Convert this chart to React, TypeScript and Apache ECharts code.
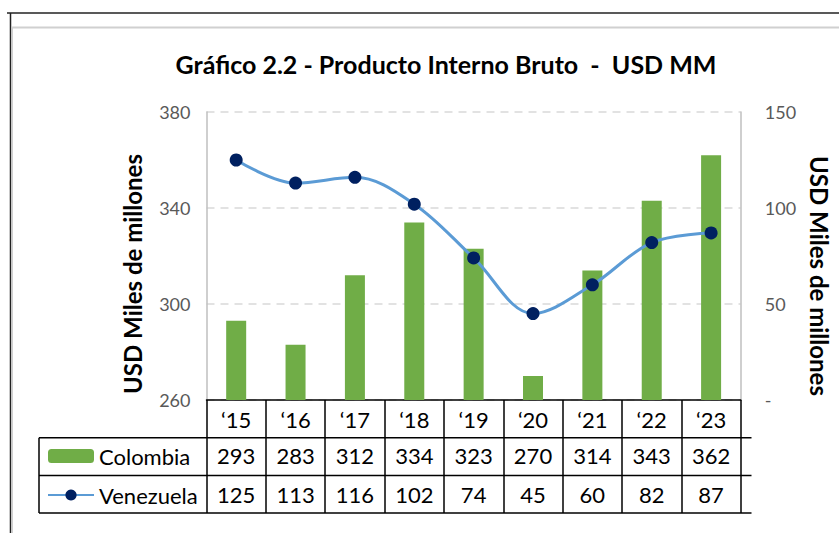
import React, { useEffect, useRef } from 'react';
import * as echarts from 'echarts';

const years = ['\u201815', '\u201816', '\u201817', '\u201818', '\u201819', '\u201820', '\u201821', '\u201822', '\u201823'];
const colombia = [293, 283, 312, 334, 323, 270, 314, 343, 362];
const venezuela = [125, 113, 116, 102, 74, 45, 60, 82, 87];
const leftAxis = { min: 260, max: 380, interval: 40 };
const rightAxis = { min: 0, max: 150, interval: 50 };
const titleText = 'Gráfico 2.2 - Producto Interno Bruto  -  USD MM';
const axisName = 'USD Miles de millones';

const W = 839;
const H = 533;
const G_LEFT = 206.5;
const G_RIGHT = 751.5;
const G_TOP = 112;
const G_BOTTOM = 400;
const ROW = 37.7;
const TABLE_LEFT = 39;
const FONT = 'Lato, "Open Sans", sans-serif';

export default function App() {
  const ref = useRef<HTMLDivElement>(null);
  useEffect(() => {
    if (!ref.current) return;
    const chart = echarts.init(ref.current, undefined, { renderer: 'svg' });
    const rowY1 = G_BOTTOM + ROW;
    const rowY2 = G_BOTTOM + 2 * ROW;
    const rowY3 = G_BOTTOM + 3 * ROW;
    const tableLine = { stroke: '#000', lineWidth: 1.5 };
    chart.setOption({
      animation: false,
      backgroundColor: '#fff',
      textStyle: { fontFamily: FONT },
      title: {
        text: titleText,
        left: 441,
        top: 46,
        textAlign: 'center',
        textStyle: { fontFamily: FONT, fontWeight: 'bold', fontSize: 25, color: '#000' },
      },
      legend: {
        orient: 'vertical',
        left: 42,
        top: 440,
        itemWidth: 46,
        itemHeight: 14,
        itemGap: 17,
        data: ['Colombia', 'Venezuela'],
        textStyle: { fontFamily: FONT, fontSize: 22, color: '#000' },
      },
      grid: { left: G_LEFT, right: W - G_RIGHT, top: G_TOP, bottom: H - G_BOTTOM, containLabel: false },
      xAxis: [
        {
          type: 'category',
          data: years,
          position: 'bottom',
          axisLine: { show: true, lineStyle: { color: '#000', width: 1.5 } },
          axisTick: { show: true, length: ROW, lineStyle: { color: '#000', width: 1.5 } },
          axisLabel: { fontSize: 22, color: '#000', margin: 8, fontFamily: FONT },
          splitLine: { show: false },
        },
        {
          type: 'category',
          data: colombia.map(String),
          position: 'bottom',
          offset: ROW,
          axisLine: { show: false },
          axisTick: { show: true, length: ROW, lineStyle: { color: '#000', width: 1.5 } },
          axisLabel: { fontSize: 22, color: '#000', margin: 7, fontFamily: FONT },
        },
        {
          type: 'category',
          data: venezuela.map(String),
          position: 'bottom',
          offset: 2 * ROW,
          axisLine: { show: false },
          axisTick: { show: true, length: ROW, lineStyle: { color: '#000', width: 1.5 } },
          axisLabel: { fontSize: 22, color: '#000', margin: 8, fontFamily: FONT },
        },
      ],
      yAxis: [
        {
          type: 'value',
          min: leftAxis.min,
          max: leftAxis.max,
          interval: leftAxis.interval,
          position: 'left',
          name: axisName,
          nameLocation: 'middle',
          nameGap: 62,
          nameTextStyle: { fontFamily: FONT, fontWeight: 'bold', fontSize: 24, color: '#000', padding: [0, 36, 0, 0] },
          axisLine: { show: true, lineStyle: { color: '#BFBFBF', width: 1.5 } },
          axisTick: { show: false },
          axisLabel: { fontSize: 18, color: '#595959', margin: 16, fontFamily: FONT },
          splitLine: { show: true, lineStyle: { color: '#D9D9D9', type: [8, 6], width: 1.5 } },
        },
        {
          type: 'value',
          min: rightAxis.min,
          max: rightAxis.max,
          interval: rightAxis.interval,
          position: 'right',
          name: axisName,
          nameLocation: 'middle',
          nameGap: 64,
          nameRotate: -90,
          nameTextStyle: { fontFamily: FONT, fontWeight: 'bold', fontSize: 24, color: '#000', padding: [0, 0, 0, 40] },
          axisLine: { show: true, lineStyle: { color: '#BFBFBF', width: 1.5 } },
          axisTick: { show: false },
          axisLabel: {
            fontSize: 18,
            color: '#595959',
            margin: 24,
            fontFamily: FONT,
            formatter: (v: number) => (v === 0 ? '-' : String(v)),
          },
          splitLine: { show: false },
        },
      ],
      series: [
        {
          name: 'Colombia',
          type: 'bar',
          xAxisIndex: 0,
          yAxisIndex: 0,
          data: colombia,
          barWidth: 20,
          itemStyle: { color: '#70AD47' },
        },
        {
          name: 'Venezuela',
          type: 'line',
          xAxisIndex: 0,
          yAxisIndex: 1,
          data: venezuela,
          smooth: 0.35,
          symbol: 'circle',
          symbolSize: 13,
          lineStyle: { color: '#5B9BD5', width: 3 },
          itemStyle: { color: '#002060' },
        },
      ],
      graphic: [
        { type: 'line', shape: { x1: 7, y1: 13, x2: W, y2: 13 }, style: { stroke: '#222', lineWidth: 1.5 } },
        { type: 'line', shape: { x1: 12, y1: 27.5, x2: W, y2: 27.5 }, style: { stroke: '#D0D0D0', lineWidth: 2 } },
        { type: 'line', shape: { x1: 10.5, y1: 13, x2: 10.5, y2: H }, style: { stroke: '#222', lineWidth: 1.5 } },
        { type: 'line', shape: { x1: 12.5, y1: 27, x2: 12.5, y2: H }, style: { stroke: '#D0D0D0', lineWidth: 1 } },
        { type: 'line', shape: { x1: TABLE_LEFT, y1: rowY1, x2: G_RIGHT, y2: rowY1 }, style: tableLine },
        { type: 'line', shape: { x1: TABLE_LEFT, y1: rowY2, x2: G_RIGHT, y2: rowY2 }, style: tableLine },
        { type: 'line', shape: { x1: TABLE_LEFT, y1: rowY3, x2: G_RIGHT, y2: rowY3 }, style: tableLine },
        { type: 'line', shape: { x1: TABLE_LEFT, y1: rowY1, x2: TABLE_LEFT, y2: rowY3 }, style: tableLine },
      ],
    });
    return () => chart.dispose();
  }, []);
  return <div ref={ref} style={{ position: 'absolute', left: 0, top: 0, width: W, height: H }} />;
}
